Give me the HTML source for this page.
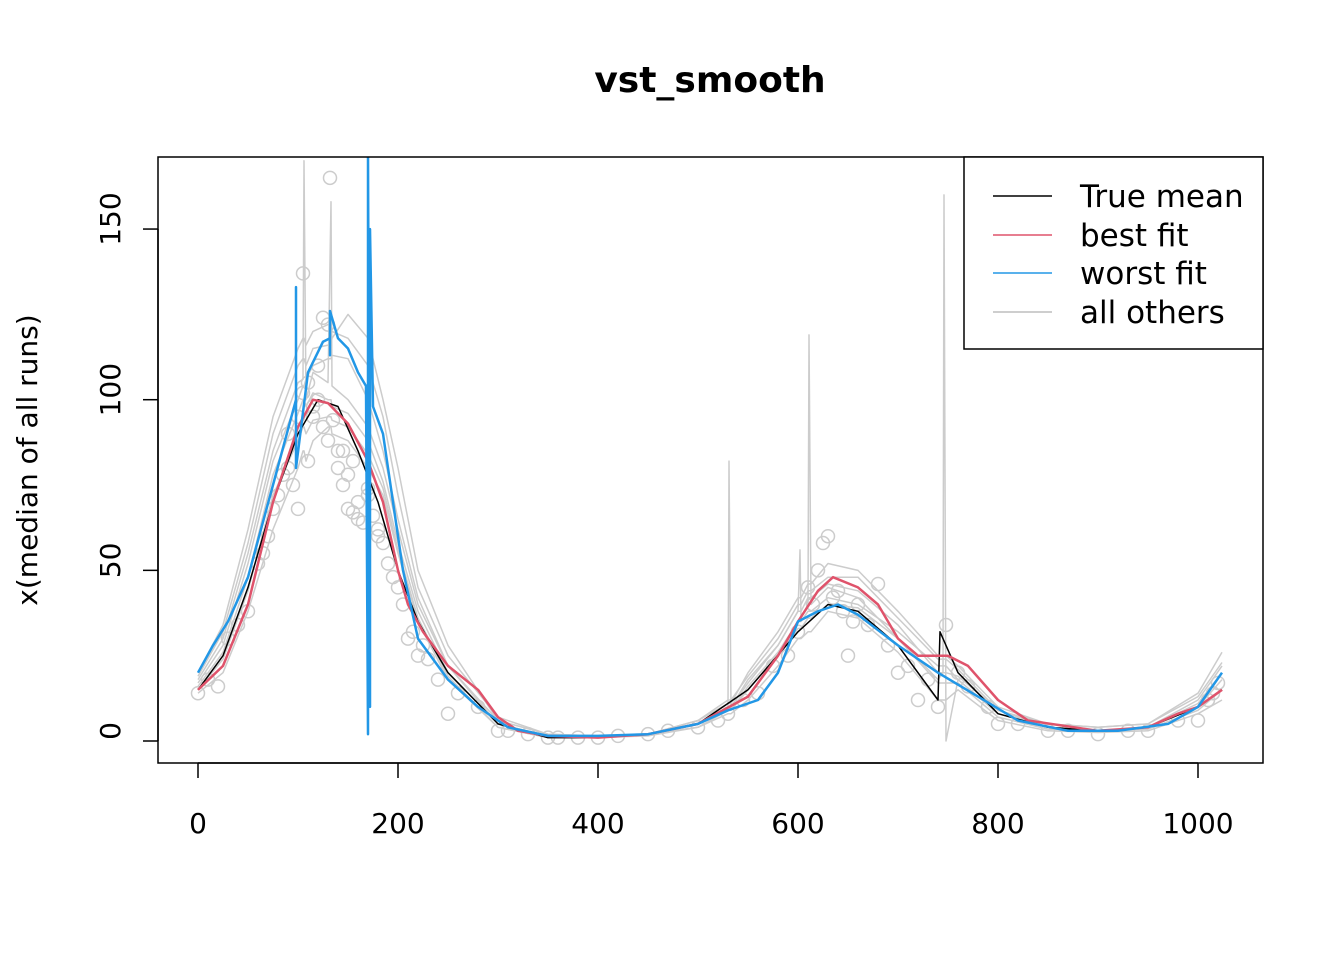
<!DOCTYPE html>
<html><head><meta charset="utf-8">
<style>
html,body{margin:0;padding:0;background:#fff;}
svg{display:block;font-family:"Liberation Sans","DejaVu Sans",sans-serif;}
</style></head>
<body>
<svg id="chart" width="1344" height="960" viewBox="0 0 1344 960" xmlns="http://www.w3.org/2000/svg">
<defs><clipPath id="clip"><rect x="158" y="157" width="1105" height="606"/></clipPath></defs>
<rect width="1344" height="960" fill="#fff"/>
<text x="710" y="92" text-anchor="middle" font-size="36" font-weight="bold" font-family="DejaVu Sans, sans-serif">vst_smooth</text>
<text transform="translate(37,460) rotate(-90)" text-anchor="middle" font-size="28" font-family="DejaVu Sans, sans-serif">x(median of all runs)</text>
<g id="others" clip-path="url(#clip)"></g>
<g id="main" clip-path="url(#clip)"></g>
<g id="axes"></g>
<rect x="158" y="157" width="1105" height="606" fill="none" stroke="#000" stroke-width="1.5"/>
<g>
<rect x="964" y="157" width="299" height="192" fill="#fff" stroke="#000" stroke-width="1.5"/>
<line x1="993" x2="1052" y1="196" y2="196" stroke="#000" stroke-width="1.5"/>
<text x="1080" y="207" font-size="31" font-family="DejaVu Sans, sans-serif">True mean</text>
<line x1="993" x2="1052" y1="235" y2="235" stroke="#DF536B" stroke-width="1.5"/>
<text x="1080" y="246" font-size="31" font-family="DejaVu Sans, sans-serif">best fit</text>
<line x1="993" x2="1052" y1="273" y2="273" stroke="#2297E6" stroke-width="1.5"/>
<text x="1080" y="284" font-size="31" font-family="DejaVu Sans, sans-serif">worst fit</text>
<line x1="993" x2="1052" y1="312" y2="312" stroke="#BEBEBE" stroke-width="1.5"/>
<text x="1080" y="323" font-size="31" font-family="DejaVu Sans, sans-serif">all others</text>
</g>
</svg>
<script>
const xTicks=[0,200,400,600,800,1000];
const yTicks=[0,50,100,150];
const trueX=[0,25,50,75,100,120,140,160,180,200,220,250,300,350,400,450,500,550,600,630,660,700,740,742,760,800,850,900,950,1000,1024];
const trueY=[15,25,45,70,90,100,98,85,70,50,35,20,5,1,1,2,5,15,32,40,38,28,12,32,20,8,4,3,4,10,15];
const bestX=[0,25,50,75,100,115,130,150,170,185,200,210,225,250,280,300,320,350,400,450,500,550,580,600,620,635,660,680,700,720,750,770,800,830,900,950,980,1000,1024];
const bestY=[15,22,40,70,92,100,99,93,82,70,50,40,32,22,15,7,3,1.5,1,2,5,13,25,35,44,48,45,40,30,25,25,22,12,6,3,4,8,10,15];
const worstX=[0,15,30,50,75,98,98,98,110,125,132,132,132,140,150,160,168,170,170,172,172,175,185,195,205,220,250,280,310,350,400,450,500,530,560,580,600,620,640,660,700,740,780,820,870,920,970,1000,1024];
const worstY=[20,28,35,48,75,100,133,80,108,117,118,113,126,118,115,108,104,2,172,10,150,98,90,70,50,30,18,10,4,1.5,1.5,2,5,9,12,20,35,38,40,37,28,20,13,6,3,3,5,10,20];
const otherX=[0,25,50,75,100,105,106,108,115,130,133,134,150,170,185,200,220,250,300,350,400,450,500,530,531,533,550,580,600,602,603,610,611,613,630,660,700,740,745,746,748,760,800,850,900,950,1000,1024];
const otherA=[18,30,55,85,105,106,170,100,108,105,158,104,100,92,80,62,40,22,6,2,1,2,5,10,82,10,18,28,38,56,36,40,119,40,45,42,30,18,20,160,0,18,8,4,3,4,12,22];
const otherB=[14,20,38,62,80,85,85,82,88,92,92,90,88,80,72,55,35,18,4,1,1,1.5,4,8,8,8,12,22,30,30,30,32,32,32,38,36,26,12,12,12,12,15,6,3,2.5,3,8,12];
const otherC=[20,34,62,95,115,118,118,116,120,122,122,120,118,110,95,72,45,25,7,2,1.5,2,6,11,11,11,20,32,42,42,42,46,46,46,52,50,38,25,25,25,25,22,10,5,4,5,14,26];
const otherD=[16,26,48,78,96,100,100,98,102,100,100,98,96,88,76,58,38,20,5,1.5,1,2,5,9,9,9,16,26,35,35,35,38,38,38,42,40,32,22,22,22,22,18,8,4,3,4,10,18];
const otherE=[17,28,52,82,100,104,104,106,110,112,112,113,112,100,85,65,42,22,5,1.5,1,2,5,10,10,10,17,28,38,38,38,42,42,42,46,44,34,20,20,20,20,19,9,4,3,4,11,20];
const otherF=[15,24,44,72,88,92,92,90,94,95,95,94,92,84,74,56,36,19,4,1,1,2,4,9,9,9,15,25,33,33,33,36,36,36,40,39,30,17,17,17,17,17,7,3.5,3,3.5,9,15];
const otherG=[19,32,58,90,110,112,112,110,115,116,116,118,125,118,100,80,50,28,6,2,1.5,2,6,12,12,12,19,30,40,40,40,44,44,44,48,48,36,24,24,24,24,21,9,5,4,5,13,23];
const circX=[0,10,20,30,40,50,60,70,80,90,95,100,105,110,115,120,125,130,132,140,145,150,155,160,165,170,180,190,200,210,220,230,250,300,350,400,450,500,530,560,590,610,620,625,630,640,650,660,680,700,720,740,748,760,800,850,900,950,1000,1010,1020,
 65,75,85,90,100,105,110,115,120,125,130,135,140,145,150,155,160,170,175,180,185,195,205,215,225,240,260,280,310,330,360,380,420,470,520,545,575,600,615,635,645,655,670,690,710,730,770,790,820,870,930,980,1015];
const circY=[14,18,16,30,34,38,52,60,72,80,75,68,137,82,95,110,124,122,165,85,75,68,67,65,64,72,60,52,45,30,25,24,8,3,1,1,2,4,8,14,25,45,50,58,60,44,25,40,46,20,12,10,34,20,5,3,2,3,6,12,17,
 55,68,78,90,95,102,105,98,100,92,88,94,80,85,78,82,70,74,66,62,58,48,40,32,28,18,14,10,3,2,1,1,1.5,3,6,12,22,32,40,42,38,35,34,28,22,18,16,10,5,3,3,6,14];
function X(v){return 198+v;}
function Y(v){return 741-v*3.413;}
const NS='http://www.w3.org/2000/svg';
function path(g,xs,ys,color,w,name){
  const p=document.createElementNS(NS,'path');
  let d='';xs.forEach((x,i)=>{d+=(i?'L':'M')+X(x).toFixed(1)+','+Y(ys[i]).toFixed(1);});
  p.setAttribute('d',d);p.setAttribute('fill','none');p.setAttribute('stroke',color);p.setAttribute('stroke-width',w);p.setAttribute('stroke-linejoin','round');
  
  
  g.appendChild(p);
}
const og=document.getElementById('others');
[[otherA,'other-line-a'],[otherB,'other-line-b'],[otherC,'other-line-c'],[otherD,'other-line-d'],[otherE,'other-line-e'],[otherF,'other-line-f'],[otherG,'other-line-g']].forEach(s=>path(og,otherX,s[0],'#CCCCCC',1.5,s[1]));
circX.forEach((x,i)=>{
  const c=document.createElementNS(NS,'circle');
  c.setAttribute('cx',X(x));c.setAttribute('cy',Y(circY[i]));c.setAttribute('r',6.5);
  c.setAttribute('fill','none');c.setAttribute('stroke','#CCCCCC');c.setAttribute('stroke-width',1.5);
  
  
  og.appendChild(c);
});
const mg=document.getElementById('main');
path(mg,trueX,trueY,'#000',1.5,'true-mean-line');
path(mg,bestX,bestY,'#DF536B',2.5,'best-fit-line');
path(mg,worstX,worstY,'#2297E6',2.5,'worst-fit-line');
const ag=document.getElementById('axes');
function ln(x1,y1,x2,y2,name){const l=document.createElementNS(NS,'line');l.setAttribute('x1',x1);l.setAttribute('y1',y1);l.setAttribute('x2',x2);l.setAttribute('y2',y2);l.setAttribute('stroke','#000');l.setAttribute('stroke-width',1.5);
  
  
  ag.appendChild(l);}
function tx(x,y,s,tr,name){const t=document.createElementNS(NS,'text');t.setAttribute('x',x);t.setAttribute('y',y);t.setAttribute('text-anchor','middle');t.setAttribute('font-size','28');t.setAttribute('font-family','DejaVu Sans, sans-serif');if(tr)t.setAttribute('transform',tr);t.textContent=s;
  
  
  ag.appendChild(t);}
ln(X(xTicks[0]),763,X(xTicks[xTicks.length-1]),763,'x-axis-line');
xTicks.forEach(v=>{ln(X(v),763,X(v),778,'x-tick');tx(X(v),833,String(v),null,'x-tick-label');});
ln(158,Y(yTicks[0]),158,Y(yTicks[yTicks.length-1]),'y-axis-line');
yTicks.forEach(v=>{ln(143,Y(v),158,Y(v),'y-tick');tx(110,Y(v),String(v),'rotate(-90,110,'+(Y(v)-10)+')','y-tick-label');});
</script>
</body></html>
